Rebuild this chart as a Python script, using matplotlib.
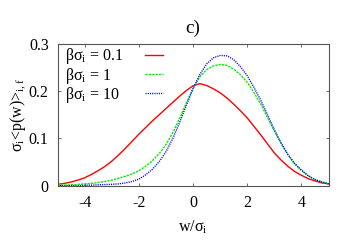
import numpy as np
import matplotlib
matplotlib.use('Agg')
import matplotlib.pyplot as plt

## Plot Styling (gnuplot-like)
matplotlib.rcParams['font.family'] = ['Liberation Serif', 'DejaVu Serif']
matplotlib.rcParams['font.size'] = 11.5
matplotlib.rcParams['axes.unicode_minus'] = False
matplotlib.rcParams['xtick.direction'] = 'in'
matplotlib.rcParams['ytick.direction'] = 'in'
matplotlib.rcParams['xtick.top'] = True
matplotlib.rcParams['ytick.right'] = True
matplotlib.rcParams['xtick.major.size'] = 2.5
matplotlib.rcParams['ytick.major.size'] = 2.5
matplotlib.rcParams['xtick.major.width'] = 0.6
matplotlib.rcParams['ytick.major.width'] = 0.6
matplotlib.rcParams['xtick.color'] = '#555555'
matplotlib.rcParams['ytick.color'] = '#555555'
matplotlib.rcParams['xtick.labelcolor'] = 'black'
matplotlib.rcParams['ytick.labelcolor'] = 'black'
matplotlib.rcParams['axes.edgecolor'] = '#555555'
matplotlib.rcParams['axes.linewidth'] = 0.8

# data
w = [-5, -4.75, -4.5, -4.25, -4, -3.75, -3.5, -3.25, -3, -2.75, -2.5, -2.25,
     -2, -1.75, -1.5, -1.25, -1, -0.75, -0.5, -0.25, 0, 0.25, 0.5, 0.75,
     1, 1.25, 1.5, 1.75, 2, 2.25, 2.5, 2.75, 3, 3.25, 3.5, 3.75, 4, 4.25,
     4.5, 4.75, 5]
p_01 = [0.003, 0.005, 0.008, 0.012, 0.017, 0.024, 0.032, 0.041, 0.052, 0.065,
        0.079, 0.094, 0.109, 0.123, 0.137, 0.150, 0.163, 0.176, 0.189, 0.201,
        0.211, 0.2155, 0.2115, 0.2045, 0.196, 0.185, 0.172, 0.158, 0.143, 0.125,
        0.107, 0.088, 0.069, 0.054, 0.041, 0.030, 0.022, 0.015, 0.010, 0.006,
        0.004]
p_1 = [0.001, 0.0015, 0.002, 0.003, 0.004, 0.005, 0.007, 0.009, 0.012, 0.016,
       0.020, 0.025, 0.032, 0.041, 0.053, 0.068, 0.087, 0.112, 0.142, 0.175,
       0.206, 0.230, 0.245, 0.253, 0.256, 0.254, 0.246, 0.234, 0.218, 0.196,
       0.172, 0.143, 0.115, 0.089, 0.065, 0.046, 0.032, 0.021, 0.013, 0.008,
       0.004]
p_10 = [0.000, 0.000, 0.0003, 0.0005, 0.001, 0.0013, 0.002, 0.0025, 0.003,
        0.004, 0.006, 0.009, 0.014, 0.023, 0.035, 0.051, 0.072, 0.100, 0.133,
        0.170, 0.205, 0.235, 0.257, 0.270, 0.275, 0.274, 0.266, 0.251, 0.232,
        0.207, 0.180, 0.149, 0.118, 0.090, 0.066, 0.047, 0.033, 0.021, 0.013,
        0.008, 0.004]
labels = ['βσ$_\\mathregular{i}$ = 0.1', 'βσ$_\\mathregular{i}$ = 1',
          'βσ$_\\mathregular{i}$ = 10']
xticks = [-4, -2, 0, 2, 4]
yticks = [0, 0.1, 0.2, 0.3]
yticklabels = ['0', '0.1', '0.2', '0.3']

fig = plt.figure(figsize=(3.56, 2.49), dpi=100)
ax = fig.add_axes([0.162, 0.254, 0.761, 0.571])

ax.plot(w, p_01, color='#ff0000', lw=1.0, label=labels[0])
ax.plot(w, p_1, color='#00ee00', lw=1.0, dashes=(1.6, 0.8), label=labels[1])
ax.plot(w, p_10, color='#0000ff', lw=1.0, dashes=(0.8, 0.8), label=labels[2])

ax.set_xlim(-5, 5)
ax.set_ylim(0, 0.3)
ax.set_xticks(xticks)
ax.set_yticks(yticks, yticklabels)
ax.tick_params(axis='x', pad=7)
ax.tick_params(axis='y', pad=6.5)

ax.set_title('c)', pad=8)
ax.set_xlabel('w/σ$_\\mathregular{i}$', labelpad=5)
ax.set_ylabel('σ$_\\mathregular{i}$<p(w)>$_\\mathregular{i,f}$', labelpad=0)

# key: text on the left, sample line on the right (gnuplot style)
leg = ax.legend(loc='upper left', bbox_to_anchor=(0.028, 0.98), frameon=False,
                markerfirst=False, handlelength=1.15, handletextpad=0.5,
                labelspacing=-0.05, borderpad=0, borderaxespad=0)
for col in leg._legend_handle_box.get_children():
    for item in col.get_children():
        item.mode = 'expand'
        item.width = 98

fig.savefig('out.png', dpi=100)
